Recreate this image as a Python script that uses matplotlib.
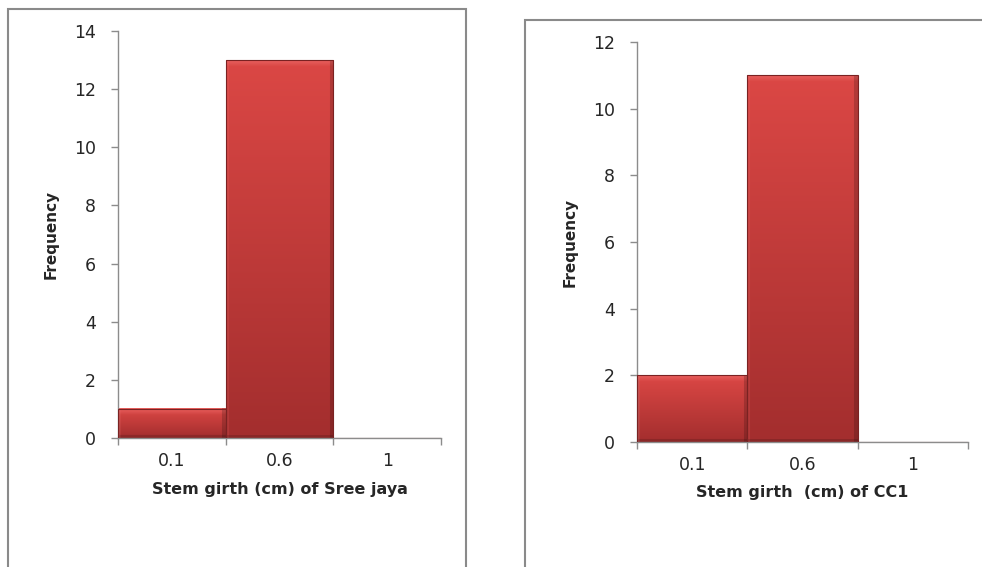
import numpy as np
import matplotlib
matplotlib.use("Agg")
import matplotlib.pyplot as plt
from matplotlib.patches import Rectangle

# Stem girth class frequencies for two varieties
bins = ["0.1", "0.6", "1"]
sree_jaya_freq = [1, 13, 0]
cc1_freq = [2, 11, 0]
sree_jaya_yticks = [0, 2, 4, 6, 8, 10, 12, 14]
cc1_yticks = [0, 2, 4, 6, 8, 10, 12]

plt.rcParams["font.family"] = ["DejaVu Sans"]

W, H = 982, 567
DPI = 100
fig = plt.figure(figsize=(W / DPI, H / DPI), dpi=DPI)

AXIS_GREY = "#8c8c8c"
TEXT = "#262626"
TOP = np.array([0.86, 0.28, 0.27])
BOTTOM = np.array([0.64, 0.18, 0.18])


def bevel_image(px_w, px_h):
    """Vertical red gradient with a light top bevel and shaded sides."""
    ny, nx = max(int(px_h), 2), max(int(px_w), 2)
    t = np.linspace(0, 1, ny)[:, None, None]
    img = TOP * (1 - t) + BOTTOM * t
    img = np.repeat(img, nx, axis=1)
    yy = np.arange(ny)[:, None]
    xx = np.arange(nx)[None, :]
    # soft light band along the top edge
    band = np.clip(1 - yy / 6.0, 0, 1)[:, :, None] * 0.35
    img = img * (1 - band) + np.array([1.0, 0.55, 0.55]) * band
    right = np.broadcast_to(xx >= nx - 4, (ny, nx))
    left = np.broadcast_to(xx < 3, (ny, nx))
    bottom = np.broadcast_to(yy >= ny - 3, (ny, nx))
    img[right] *= 0.82
    img[left] = img[left] * 0.85 + 0.15 * np.array([0.95, 0.45, 0.45])
    img[bottom] *= 0.85
    return np.clip(img, 0, 1)


def histogram_panel(rect, counts, yticks, xlabel, ylabel_x):
    ax = fig.add_axes(rect)
    n = len(counts)
    ymax = yticks[-1]
    ax_w_px = rect[2] * W
    ax_h_px = rect[3] * H
    x = np.arange(n)
    for xi, c in zip(x, counts):
        if c <= 0:
            continue
        img = bevel_image(ax_w_px / n, c / ymax * ax_h_px)
        ax.imshow(img, extent=(xi, xi + 1, 0, c), aspect="auto",
                  origin="upper", zorder=2, interpolation="bilinear")
    ax.bar(x, counts, width=1.0, align="edge", fill=False,
           edgecolor="#7a2222", linewidth=0.8, zorder=3)
    ax.set_xlim(0, n)
    ax.set_ylim(0, ymax)

    for s in ("top", "right"):
        ax.spines[s].set_visible(False)
    for s in ("left", "bottom"):
        ax.spines[s].set_color(AXIS_GREY)
        ax.spines[s].set_linewidth(1.0)

    ax.set_yticks(yticks)
    ax.set_yticklabels([str(v) for v in yticks])
    ax.set_xticks(np.arange(n + 1))
    ax.set_xticklabels([])
    ax.set_xticks(x + 0.5, minor=True)
    ax.set_xticklabels(bins, minor=True)
    ax.tick_params(axis="y", direction="out", length=5, width=1.0,
                   color=AXIS_GREY, labelsize=12.5, labelcolor=TEXT, pad=11)
    ax.tick_params(axis="x", which="major", direction="out", length=5,
                   width=1.0, color=AXIS_GREY)
    ax.tick_params(axis="x", which="minor", length=0, labelsize=12.5,
                   labelcolor=TEXT, pad=10)

    ax.set_xlabel(xlabel, fontsize=11.5, fontweight="bold", color=TEXT)
    ax.xaxis.set_label_coords(0.5, -0.108)
    ax.set_ylabel("Frequency", fontsize=11, fontweight="bold", color=TEXT)
    ax.yaxis.set_label_coords(ylabel_x, 0.5)
    return ax


# Frames around each chart
fig.add_artist(Rectangle((8 / W, -0.02), (466 - 8) / W, 1.02 - 9 / H,
                         transform=fig.transFigure, fill=False,
                         edgecolor="#8a8a8a", linewidth=1.5))
fig.add_artist(Rectangle((525 / W, -0.02), 0.5, 1.02 - 20 / H,
                         transform=fig.transFigure, fill=False,
                         edgecolor="#8a8a8a", linewidth=1.5))

histogram_panel([118 / W, (567 - 438) / H, (441 - 118) / W, (438 - 31) / H],
                sree_jaya_freq, sree_jaya_yticks,
                "Stem girth (cm) of Sree jaya", -0.183)
histogram_panel([637 / W, (567 - 442) / H, (968 - 637) / W, (442 - 42) / H],
                cc1_freq, cc1_yticks,
                "Stem girth  (cm) of CC1", -0.178)

fig.savefig("out.png", dpi=DPI)
